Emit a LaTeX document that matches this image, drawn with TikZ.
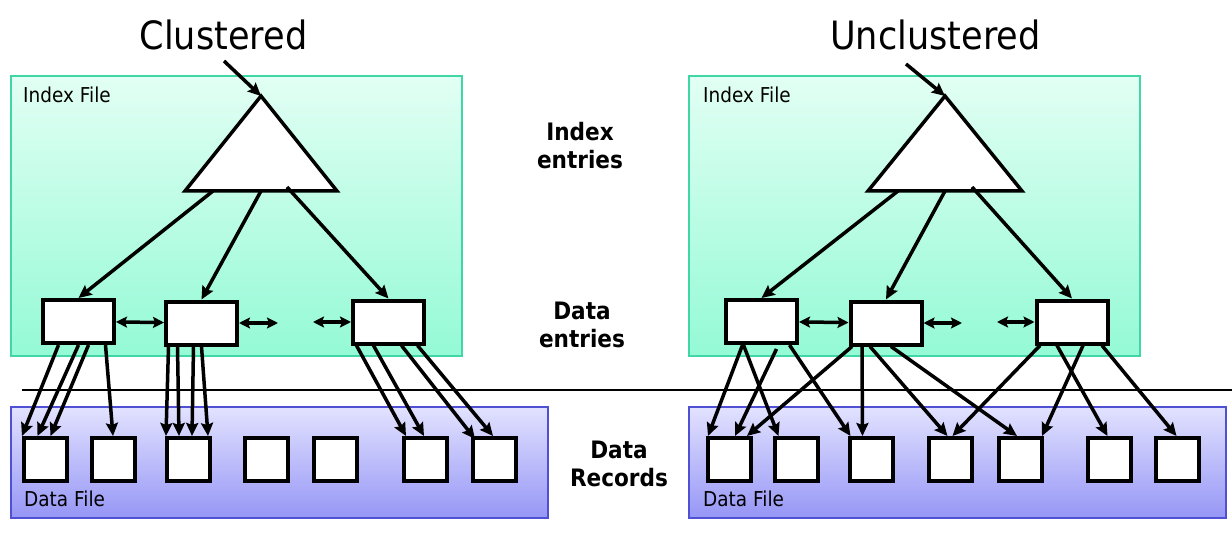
\documentclass[tikz,border=0pt]{standalone}
\usepackage{fontspec}
\setmainfont{DejaVu Sans}[FakeStretch=0.9]
\definecolor{idxline}{RGB}{64,214,166}
\definecolor{idxtop}{RGB}{226,255,244}
\definecolor{idxbot}{RGB}{148,250,214}
\definecolor{datline}{RGB}{80,80,212}
\definecolor{dattop}{RGB}{226,226,255}
\definecolor{datbot}{RGB}{150,150,246}
\usetikzlibrary{arrows.meta,positioning}

\begin{document}
\begin{tikzpicture}[x=1pt, y=-1pt,
  idxfile/.style={draw=idxline, line width=1.5pt, top color=idxtop, bottom color=idxbot},
  datfile/.style={draw=datline, line width=1.5pt, top color=dattop, bottom color=datbot},
  entry/.style={draw, fill=white, line width=4pt, minimum width=71pt, minimum height=43pt, inner sep=0pt},
  rec/.style={draw, fill=white, line width=4pt, minimum size=43pt, inner sep=0pt},
  tri/.style={draw, fill=white, line width=3.5pt, line join=miter},
  arr/.style={-{Stealth[length=13pt,width=12pt,inset=2pt]}, line width=3.5pt},
  dbl/.style={{Stealth[length=11pt,width=11pt,inset=2pt]}-{Stealth[length=11pt,width=11pt,inset=2pt]}, line width=3.5pt},
  title/.style={font=\fontsize{39}{44}\selectfont, anchor=base, inner sep=0pt},
  file/.style={font=\fontsize{20.5}{24}\selectfont, anchor=base west, inner sep=0pt},
  side/.style={font=\fontsize{24}{28}\selectfont\bfseries, align=center, inner sep=0pt}
]
  \useasboundingbox (0,0) rectangle (1232,540);

  \draw[idxfile] (11,76) rectangle (462,356);
  \draw[idxfile] (689,76) rectangle (1140,356);
  \draw[datfile] (11,407) rectangle (548,518);
  \draw[datfile] (689,407) rectangle (1226,518);
  \draw[line width=1.5pt] (22,390) -- (1232,390);

  \node[title] (ctitle) at (223.5,50) {Clustered};
  \node[title] (utitle) at (935.5,50) {Unclustered};
  \node[file] (cidx) at (23,103) {Index File};
  \node[file] (uidx) at (703,103) {Index File};
  \node[file] (cdat) at (24,506) {Data File};
  \node[file] (udat) at (703,506) {Data File};
  \node[side] (idxlbl) at (580,146) {Index\\entries};
  \node[side] (entlbl) at (582,325) {Data\\entries};
  \node[side] (reclbl) at (619,464) {Data\\Records};

  \coordinate (capex) at (261,96);
  \coordinate (cbl) at (185,191);
  \coordinate (cbr) at (337,191);
  \coordinate (cb1) at (213,191);
  \coordinate (cb2) at (261,191);
  \coordinate (cb3) at (287,187);
  \draw[tri] (capex) -- (cbr) -- (cbl) -- cycle;
  \coordinate (uapex) at (945,96);
  \coordinate (ubl) at (868,191);
  \coordinate (ubr) at (1022,191);
  \coordinate (ub1) at (898,191);
  \coordinate (ub2) at (945,191);
  \coordinate (ub3) at (972,187);
  \draw[tri] (uapex) -- (ubr) -- (ubl) -- cycle;

  \node[entry] (cl1) at (78.5,321.5) {};
  \node[entry] (cl2) at (201.5,323) {};
  \node[entry] (cl3) at (388.5,322) {};
  \node[entry] (ul1) at (761.5,321.5) {};
  \node[entry] (ul2) at (886,323) {};
  \node[entry] (ul3) at (1072,322) {};

  \node[rec] (cr1) at (45.5,459.5) {};
  \node[rec] (cr2) at (113,459.5) {};
  \node[rec] (cr3) at (188,459.5) {};
  \node[rec] (cr4) at (266.5,459.5) {};
  \node[rec] (cr5) at (335.5,459.5) {};
  \node[rec] (cr6) at (425,459.5) {};
  \node[rec] (cr7) at (494,459.5) {};
  \node[rec] (ur1) at (729,459.5) {};
  \node[rec] (ur2) at (796.5,459.5) {};
  \node[rec] (ur3) at (871.5,459.5) {};
  \node[rec] (ur4) at (950.5,459.5) {};
  \node[rec] (ur5) at (1020,459.5) {};
  \node[rec] (ur6) at (1109.5,459.5) {};
  \node[rec] (ur7) at (1177.5,459.5) {};

  \draw[arr] ([xshift=0.5pt,yshift=-11pt]ctitle.base) -- (capex);
  \draw[arr] ([xshift=-29.5pt,yshift=-14pt]utitle.base) -- (uapex);

  \draw[arr] (cb1) -- (cl1.north);
  \draw[arr] (cb2) -- (cl2.north);
  \draw[arr] (cb3) -- (cl3.north);
  \draw[arr] (ub1) -- (ul1.north);
  \draw[arr] (ub2) -- (ul2.north);
  \draw[arr] (ub3) -- (ul3.north);

  \coordinate (cgap1) at (278,323);
  \coordinate (cgap2) at (313,322);
  \coordinate (ugap1) at (962,323);
  \coordinate (ugap2) at (997,322);
  \draw[dbl] (cl1) -- (cl2);
  \draw[dbl] (cl2) -- (cgap1);
  \draw[dbl] (cgap2) -- (cl3);
  \draw[dbl] (ul1) -- (ul2);
  \draw[dbl] (ul2) -- (ugap1);
  \draw[dbl] (ugap2) -- (ul3);

  \draw[arr] ([xshift=-20pt]cl1.south) -- (cr1.north west);
  \draw[arr] (cl1.south) -- ([xshift=-8pt]cr1.north);
  \draw[arr] ([xshift=10pt]cl1.south) -- ([xshift=5pt]cr1.north);
  \draw[arr] ([xshift=27pt]cl1.south) -- (cr2.north);
  \draw[arr] ([xshift=-33pt]cl2.south) -- ([xshift=-22pt]cr3.north);
  \draw[arr] ([xshift=-24pt]cl2.south) -- ([xshift=-9pt]cr3.north);
  \draw[arr] ([xshift=-8pt]cl2.south) -- ([xshift=4pt]cr3.north);
  \draw[arr] (cl2.south) -- ([xshift=20pt]cr3.north);
  \draw[arr] ([xshift=-32pt]cl3.south) -- ([xshift=-19pt]cr6.north);
  \draw[arr] ([xshift=-15pt]cl3.south) -- ([xshift=-1pt]cr6.north);
  \draw[arr] ([xshift=13pt]cl3.south) -- ([xshift=-19pt,yshift=-3pt]cr7.north);
  \draw[arr] ([xshift=29pt]cl3.south) -- ([xshift=-1pt]cr7.north);

  \draw[arr] ([xshift=-19pt]ul1.south) -- ([xshift=-21pt]ur1.north);
  \draw[arr] ([xshift=-18pt]ul1.south) -- ([xshift=-18pt]ur2.north);
  \draw[arr] ([xshift=15pt,yshift=-4pt]ul1.south) -- ([xshift=6pt]ur1.north);
  \draw[arr] ([xshift=28pt]ul1.south) -- ([xshift=-21pt]ur3.north);
  \draw[arr] ([xshift=-34pt]ul2.south) -- ([xshift=18pt]ur1.north);
  \draw[arr] ([xshift=-24pt]ul2.south) -- ([xshift=-9pt]ur3.north);
  \draw[arr] ([xshift=-16pt]ul2.south) -- ([xshift=-3pt]ur4.north);
  \draw[arr] ([xshift=5pt]ul2.south) -- ([xshift=-3pt]ur5.north);
  \draw[arr] ([xshift=-32pt]ul3.south) -- ([xshift=2pt]ur4.north);
  \draw[arr] ([xshift=-15pt]ul3.south) -- ([xshift=-2pt]ur6.north);
  \draw[arr] ([xshift=11pt]ul3.south) -- ([xshift=22pt]ur5.north);
  \draw[arr] ([xshift=30pt]ul3.south) -- ([xshift=-1pt]ur7.north);
\end{tikzpicture}
\end{document}
